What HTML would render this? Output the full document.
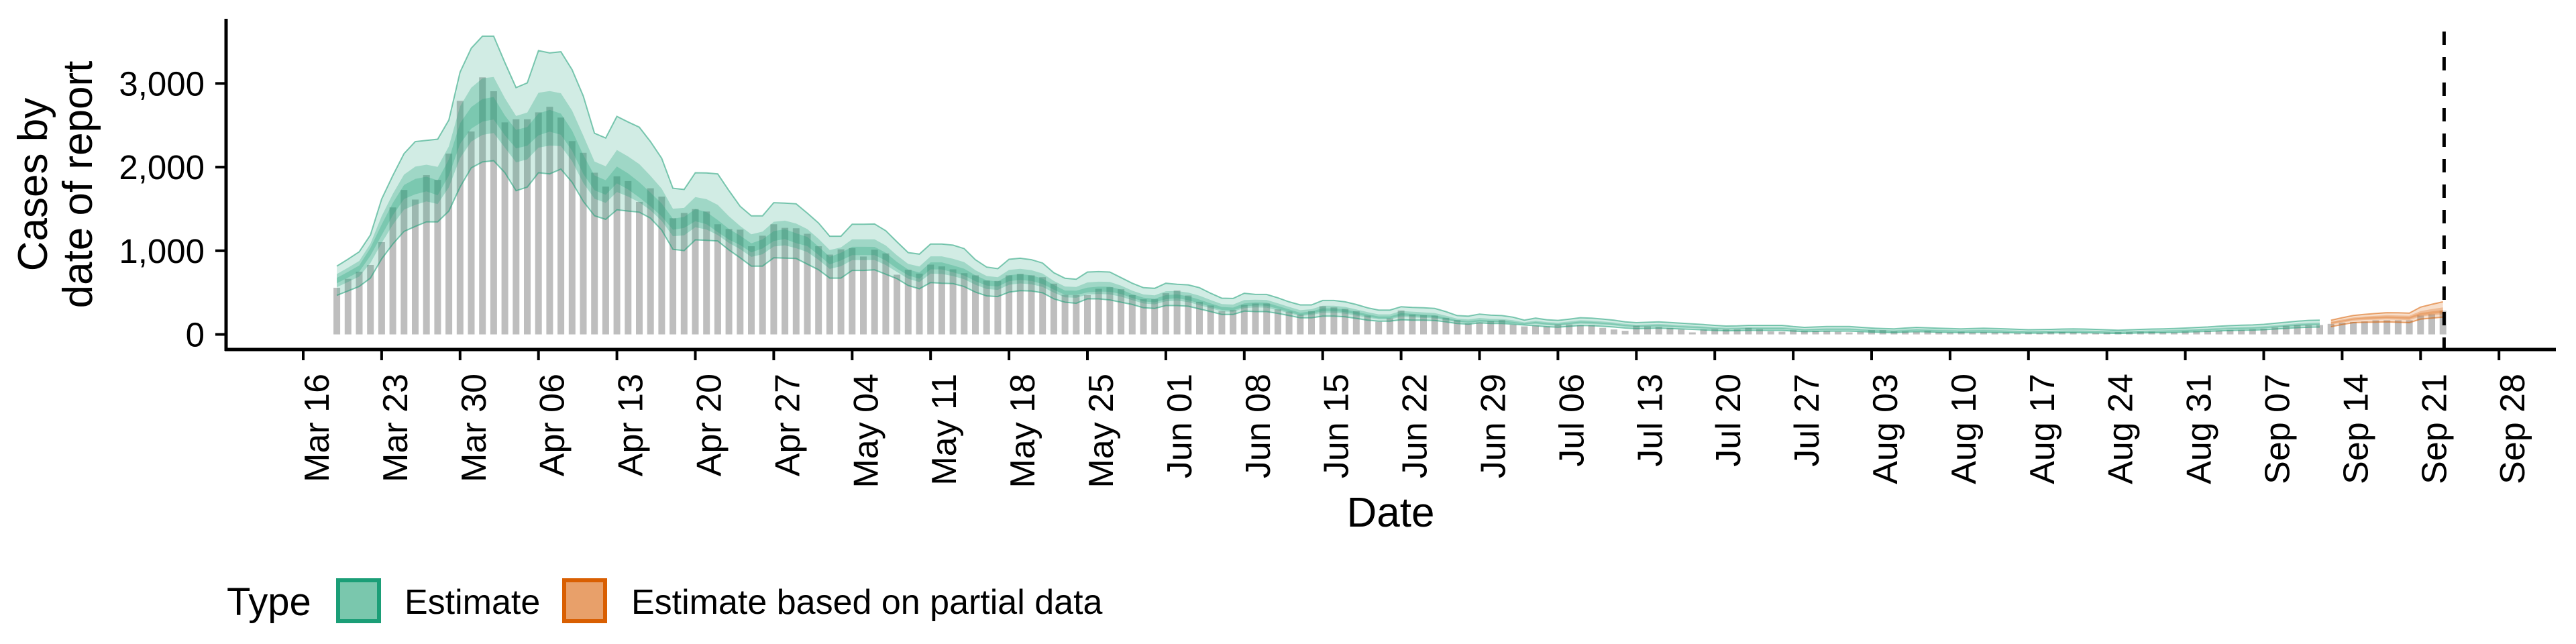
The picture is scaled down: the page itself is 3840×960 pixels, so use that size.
<!DOCTYPE html>
<html><head><meta charset="utf-8"><style>
html,body{margin:0;padding:0;background:#fff;}
svg{display:block;font-family:"Liberation Sans",Arial,sans-serif;}
</style></head><body>
<svg id="chart" width="3840" height="960" viewBox="0 0 3840 960" xmlns="http://www.w3.org/2000/svg">
<g id="bars"></g>
<g id="ribbons"></g>
<g id="axes"></g>
<text x="0" y="0" transform="translate(70,275) rotate(-90)" text-anchor="middle" font-size="62">Cases by</text>
<text x="0" y="0" transform="translate(137,275) rotate(-90)" text-anchor="middle" font-size="62">date of report</text>
<text x="2073" y="785" text-anchor="middle" font-size="62">Date</text>
<g>
<text x="338" y="917" font-size="58">Type</text>
<rect x="504" y="865" width="61" height="61" fill="#7ac7ad" stroke="#1b9e77" stroke-width="6"/>
<text x="603" y="915" font-size="52">Estimate</text>
<rect x="841" y="865" width="61" height="61" fill="#e8a06a" stroke="#d95f02" stroke-width="6"/>
<text x="941" y="915" font-size="52">Estimate based on partial data</text>
</g>
</svg>
<script>
// day index 0 = Mar 16
const barStartDay = 3;
const reportedCases = [558,664,750,830,1103,1518,1727,1612,1904,1847,2162,2792,2426,3073,2907,2535,2572,2572,2655,2721,2592,2311,2171,1933,1767,1890,1833,1584,1747,1647,1389,1452,1498,1469,1317,1260,1252,1054,1180,1317,1274,1269,1203,1054,954,1017,1031,931,
1013,968,714,773,727,834,813,778,732,706,644,639,706,724,706,684,607,473,470,470,545,564,540,470,420,420,492,524,465,390,345,278,291,353,369,369,299,273,238,278,337,323,305,278,225,152,192,286,238,230,225,198,171,131,144,158,171,118,96,
104,96,118,118,112,112,78,59,43,104,96,91,78,59,24,59,64,59,59,78,64,37,32,51,43,43,43,32,24,32,51,51,37,37,32,43,29,24,32,24,29,24,24,16,24,21,29,29,27,19,19,24,29,29,32,32,27,24,37,
40,46,46,54,54,63,69,83,103,112,112,112,126,140,149,155,169,169,169,169,226,241,284];
const estStartDay = 3;
const estMedian = [644,715,788,1000,1246,1500,1704,1760,1790,1733,1990,2391,2563,2649,2678,2477,2334,2363,2477,2535,2477,2277,1990,1790,1733,1876,1790,1675,1561,1446,1303,1332,1403,1360,1246,1160,1103,1017,1074,1160,1189,1131,1103,988,873,931,988,988,
986,919,813,732,692,813,813,772,732,666,612,599,666,679,666,625,559,492,492,519,532,532,505,452,412,398,438,452,425,385,345,305,297,345,363,358,318,278,238,259,291,291,278,251,225,198,198,238,230,219,211,184,158,144,158,152,150,139,123,
140,125,118,130,144,140,131,120,105,96,100,104,98,91,85,78,70,64,66,70,70,70,70,60,51,55,59,59,59,52,45,40,37,45,51,47,43,40,37,40,43,40,37,33,29,30,32,35,37,35,32,28,24,28,32,35,37,40,45,50,55,62,68,72,74,80,90,100,110,118,120];
const estUpper = [816,900,988,1189,1618,1900,2162,2305,2320,2334,2563,3136,3422,3565,3565,3250,2950,3007,3393,3365,3379,3164,2850,2405,2348,2606,2540,2477,2305,2105,1747,1733,1933,1930,1919,1720,1532,1418,1418,1575,1570,1561,1450,1332,1174,1174,1317,1317,
1320,1240,1107,978,960,1080,1080,1067,1026,893,805,786,898,911,893,853,738,671,660,746,751,746,679,612,559,551,612,599,593,559,492,433,430,492,478,478,438,390,353,353,406,406,390,358,318,291,291,331,323,318,310,273,225,219,243,230,225,206,171,
195,176,168,183,200,195,184,170,151,140,145,150,143,134,126,118,108,100,103,108,108,108,108,95,84,89,94,94,94,85,76,70,66,76,84,79,74,70,66,70,74,70,66,61,56,58,60,64,66,64,60,55,50,55,60,64,66,70,76,83,89,98,105,110,113,120,133,145,158,168,170];
const estLower = [467,520,573,673,902,1080,1232,1290,1346,1346,1475,1761,1990,2062,2076,1933,1718,1761,1933,1919,1976,1819,1590,1418,1375,1489,1475,1461,1389,1246,1017,1002,1131,1125,1117,1010,916,816,816,916,912,908,840,773,673,673,765,765,
772,719,666,585,545,620,612,607,572,505,460,452,505,524,519,497,425,385,372,425,425,412,385,358,318,310,345,345,337,305,273,238,238,278,273,273,251,225,198,198,219,219,211,192,171,158,158,176,171,171,166,150,131,123,139,131,131,123,112,
104,92,86,96,107,104,97,88,76,69,72,75,70,65,60,54,48,43,45,48,48,48,48,40,33,36,39,39,39,34,28,24,22,28,33,30,26,24,22,24,26,24,22,18,15,16,18,20,22,20,18,14,11,14,18,20,22,24,28,32,36,42,46,50,51,56,64,72,80,86,88];
const partStartDay = 181;
const partMedian = [140,160,183,195,200,206,202,198,241,255,269];
const partUpper = [169,200,226,240,250,260,258,255,326,360,390];
const partLower = [92,118,140,145,147,149,145,140,183,195,206];
const yTicks = [0,1000,2000,3000];
const yTickLabels = ["0","1,000","2,000","3,000"];
const xTickLabels = ["Mar 16","Mar 23","Mar 30","Apr 06","Apr 13","Apr 20","Apr 27","May 04","May 11","May 18","May 25","Jun 01","Jun 08","Jun 15","Jun 22","Jun 29","Jul 06","Jul 13","Jul 20","Jul 27","Aug 03","Aug 10","Aug 17","Aug 24","Aug 31","Sep 07","Sep 14","Sep 21","Sep 28"];
const forecastLineDay = 191.1;

const NS="http://www.w3.org/2000/svg";
const X=d=>452+d*16.70;
const Y=v=>498.5-v*0.1247;
function mk(tag,attrs,parent){const e=document.createElementNS(NS,tag);for(const k in attrs)e.setAttribute(k,attrs[k]);parent.appendChild(e);return e;}

const gb=document.getElementById('bars');
reportedCases.forEach((v,i)=>{const d=barStartDay+i;
 const r=mk('rect',{x:X(d)-5,y:Y(v),width:10,height:Y(0)-Y(v),fill:'#bebebe'},gb);
 
 });

const gr=document.getElementById('ribbons');
function ribbon(start,med,lo,hi,col,name){
 const fr=[[1,0.2],[0.45,0.27],[0.18,0.27]];
 fr.forEach(([f,a],k)=>{
  let top=[],bot=[];
  med.forEach((m,i)=>{const d=start+i;top.push(X(d).toFixed(1)+','+Y(m+(hi[i]-m)*f).toFixed(1));bot.push(X(d).toFixed(1)+','+Y(m-(m-lo[i])*f).toFixed(1));});
  const p=mk('polygon',{points:top.concat(bot.reverse()).join(' '),fill:col,'fill-opacity':a},gr);
  
  
  if(k===0){
   const l1=mk('polyline',{points:top.join(' '),fill:'none',stroke:col,'stroke-opacity':0.55,'stroke-width':2},gr);
   
   
   const l2=mk('polyline',{points:bot.join(' '),fill:'none',stroke:col,'stroke-opacity':0.55,'stroke-width':2},gr);
   
   
  }
 });
}
ribbon(estStartDay,estMedian,estLower,estUpper,'#1b9e77','estimate');
ribbon(partStartDay,partMedian,partLower,partUpper,'#d95f02','partial-estimate');

const ga=document.getElementById('axes');
const yl=mk('line',{x1:337,y1:28,x2:337,y2:523,stroke:'#000','stroke-width':5},ga);

const xl=mk('line',{x1:335,y1:521,x2:3810,y2:521,stroke:'#000','stroke-width':5},ga);

yTicks.forEach((v,i)=>{
 const t=mk('line',{x1:321,y1:Y(v),x2:337,y2:Y(v),stroke:'#000','stroke-width':4},ga);
 
 const tx=mk('text',{x:305,y:Y(v)+18,'text-anchor':'end','font-size':51},ga);
 tx.textContent=yTickLabels[i];
 
});
xTickLabels.forEach((lab,i)=>{const x=X(i*7);
 const t=mk('line',{x1:x,y1:521,x2:x,y2:537,stroke:'#000','stroke-width':4},ga);
 
 const tx=mk('text',{x:0,y:0,transform:`translate(${(x+38).toFixed(1)},557) rotate(-90)`,'text-anchor':'end','font-size':52},ga);
 tx.textContent=lab;
 
});
const fl=mk('line',{x1:X(forecastLineDay),y1:47,x2:X(forecastLineDay),y2:521,stroke:'#000','stroke-width':5,'stroke-dasharray':'20 18'},ga);

</script>
</body></html>
